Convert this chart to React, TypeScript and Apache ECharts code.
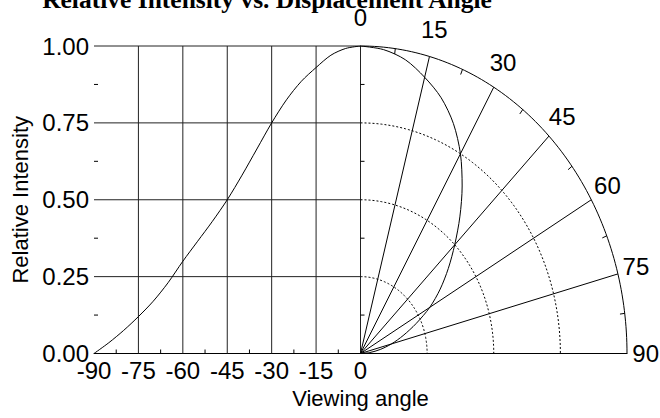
import React, { useEffect, useRef } from 'react';
import * as echarts from 'echarts';

// ---- data ----
const angles = [-90, -85, -80, -75, -70, -65, -60, -55, -50, -45, -40, -35, -30, -25, -20, -15, -10, -5, 0];
const intensity = [0, 0.035, 0.075, 0.12, 0.17, 0.23, 0.3, 0.365, 0.43, 0.5, 0.58, 0.665, 0.75, 0.825, 0.885, 0.93, 0.97, 0.992, 1.0];
const xTickLabels = [-90, -75, -60, -45, -30, -15, 0];
const xMinorTicks = [-82.5, -67.5, -52.5, -37.5, -22.5, -7.5];
const yTickLabels = [0, 0.25, 0.5, 0.75, 1];
const yMinorTicks = [0.125, 0.375, 0.625, 0.875];
const polarAngleLabels = [0, 15, 30, 45, 60, 75, 90];
const polarMinorAngles = [7.5, 22.5, 37.5, 52.5, 67.5, 82.5];
const polarRings = [0.25, 0.5, 0.75];

const SANS = '"Liberation Sans", Arial, Helvetica, sans-serif';
const SERIF = '"Liberation Serif", "Times New Roman", serif';
const RAD = Math.PI / 180;
// polar point (angle in degrees from vertical, radius 0..1) -> cartesian data coords
const polar = (deg: number, r: number, ry: number = r) => [90 * r * Math.sin(deg * RAD), ry * Math.cos(deg * RAD)];

export default function App() {
  const ref = useRef<HTMLDivElement>(null);
  useEffect(() => {
    if (!ref.current) return;
    const chart = echarts.init(ref.current, undefined, { renderer: 'svg' });

    const segSeries = (data: number[][], style: any, z = 2) => ({
      type: 'custom',
      coordinateSystem: 'cartesian2d',
      clip: false,
      silent: true,
      z,
      encode: { x: [0, 2], y: [1, 3] },
      data,
      renderItem: (_p: any, api: any) => {
        const a = api.coord([api.value(0), api.value(1)]);
        const b = api.coord([api.value(2), api.value(3)]);
        return { type: 'line', shape: { x1: a[0], y1: a[1], x2: b[0], y2: b[1] }, style };
      },
    });

    // pixel-length ticks: [x, y, dx(px), dy(px)]
    const tickSeries = (data: number[][]) => ({
      type: 'custom',
      coordinateSystem: 'cartesian2d',
      clip: false,
      silent: true,
      z: 3,
      encode: { x: 0, y: 1 },
      data,
      renderItem: (_p: any, api: any) => {
        const a = api.coord([api.value(0), api.value(1)]);
        return {
          type: 'line',
          shape: { x1: a[0], y1: a[1], x2: a[0] + api.value(2), y2: a[1] + api.value(3) },
          style: { stroke: '#000', lineWidth: 1 },
        };
      },
    });

    const leftHLines = yTickLabels.filter((v) => v > 0).map((v) => [-90, v, 0, v]);
    const leftVLines = xTickLabels.filter((v) => v > -90).map((v) => [v, 0, v, 1]);
    const rays = polarAngleLabels
      .filter((a) => a > 0 && a < 90)
      .map((a) => [0, 0, ...polar(a, 1)]);
    const arcTicks = polarMinorAngles.map((a) => [...polar(a, 0.982), ...polar(a, 1)]);

    const arcSeries = (radii: number[], style: any) => ({
      type: 'custom',
      coordinateSystem: 'cartesian2d',
      clip: false,
      silent: true,
      z: 2,
      encode: { x: 0, y: 0 },
      data: radii.map((r) => [r]),
      renderItem: (_p: any, api: any) => {
        const r = api.value(0);
        const pts: number[][] = [];
        for (let d = 0; d <= 90; d += 1) pts.push(api.coord(polar(d, r)));
        return { type: 'polyline', shape: { points: pts }, style: { ...style, fill: null } };
      },
    });

    const curveLeft = angles.map((a, i) => [a, intensity[i]]);
    const curvePolar = angles.map((a, i) => polar(-a, intensity[i]));

    chart.setOption({
      animation: false,
      backgroundColor: '#fff',
      grid: { left: 94, top: 46, width: 533, height: 307.5, containLabel: false },
      graphic: [
        {
          type: 'text',
          x: 267,
          y: 12,
          style: {
            text: 'Relative Intensity vs. Displacement Angle',
            font: 'bold 25.5px ' + SERIF,
            fill: '#000',
            align: 'center',
            verticalAlign: 'bottom',
          },
        },
      ],
      xAxis: {
        type: 'value',
        min: -90,
        max: 90,
        interval: 15,
        name: 'Viewing angle',
        nameLocation: 'middle',
        nameGap: 27,
        nameTextStyle: { fontFamily: SANS, fontSize: 22, color: '#000' },
        axisLine: { show: true, lineStyle: { color: '#000', width: 1 } },
        axisTick: { show: false },
        splitLine: { show: false },
        axisLabel: {
          fontFamily: SANS,
          fontSize: 24,
          color: '#000',
          margin: 5,
          formatter: (v: number) => (v <= 0 ? String(v) : ''),
        },
      },
      yAxis: {
        type: 'value',
        min: 0,
        max: 1,
        interval: 0.25,
        name: 'Relative Intensity',
        nameLocation: 'middle',
        nameGap: 61,
        nameTextStyle: { fontFamily: SANS, fontSize: 22, color: '#000' },
        axisLine: { show: true, lineStyle: { color: '#000', width: 1 } },
        axisTick: { show: false },
        splitLine: { show: false },
        axisLabel: {
          fontFamily: SANS,
          fontSize: 24,
          color: '#000',
          margin: 5,
          formatter: (v: number) => v.toFixed(2),
        },
      },
      series: [
        segSeries(leftHLines, { stroke: '#222', lineWidth: 1 }),
        segSeries(leftVLines, { stroke: '#222', lineWidth: 1 }),
        segSeries(rays, { stroke: '#000', lineWidth: 1 }),
        segSeries(arcTicks, { stroke: '#000', lineWidth: 1 }),
        arcSeries([1], { stroke: '#000', lineWidth: 1 }),
        arcSeries(polarRings, { stroke: '#000', lineWidth: 1, lineDash: [2, 2] }),
        tickSeries([
          ...xMinorTicks.map((v) => [v, 0, 0, -4]),
          ...yMinorTicks.map((v) => [-90, v, 4, 0]),
          ...yMinorTicks.map((v) => [0, v, 4, 0]),
        ]),
        {
          type: 'custom',
          coordinateSystem: 'cartesian2d',
          clip: false,
          silent: true,
          z: 4,
          encode: { x: 0, y: 0 },
          data: polarAngleLabels.map((a) => [a]),
          renderItem: (_p: any, api: any) => {
            const a = api.value(0);
            const p = api.coord(polar(a, 1.07, 1.092));
            return {
              type: 'text',
              x: p[0],
              y: p[1],
              style: {
                text: String(a),
                font: '24px ' + SANS,
                fill: '#000',
                align: 'center',
                verticalAlign: 'middle',
              },
            };
          },
        },
        {
          type: 'line',
          data: curveLeft,
          smooth: 0.3,
          symbol: 'none',
          lineStyle: { color: '#000', width: 1 },
          z: 5,
        },
        {
          type: 'line',
          data: curvePolar,
          smooth: 0.3,
          symbol: 'none',
          lineStyle: { color: '#000', width: 1 },
          z: 5,
        },
      ],
    });
    return () => chart.dispose();
  }, []);
  return (
    <div
      ref={ref}
      style={{ position: 'fixed', left: 0, top: 0, width: 660, height: 418, background: '#fff' }}
    />
  );
}
